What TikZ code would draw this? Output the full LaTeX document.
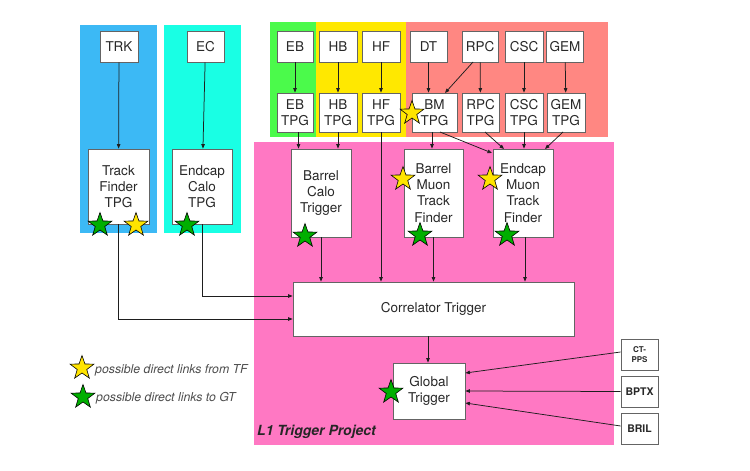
\documentclass[tikz,border=0pt]{standalone}
\usepackage{fontspec}
\setmainfont{TeX Gyre Heros}
\usetikzlibrary{arrows.meta,shapes.geometric}
\definecolor{cblue}{RGB}{60,185,245}
\definecolor{ccyan}{RGB}{25,255,228}
\definecolor{cgreen}{RGB}{75,250,75}
\definecolor{cyellow}{RGB}{255,232,0}
\definecolor{cred}{RGB}{255,135,130}
\definecolor{cpink}{RGB}{255,120,195}
\definecolor{boxgray}{RGB}{100,100,100}
\definecolor{textgray}{RGB}{40,40,40}
\definecolor{linegray}{RGB}{30,30,30}
\definecolor{starY}{RGB}{255,228,0}
\definecolor{starG}{RGB}{0,175,0}
\begin{document}
\begin{tikzpicture}[x=1pt,y=-1pt,
  box/.style={draw=boxgray, fill=white, line width=0.8pt, align=center, inner sep=0pt,
    font=\fontsize{13.5}{16.3}\selectfont, text=textgray},
  sbox/.style={box, font=\bfseries\fontsize{10.5}{12}\selectfont},
  arr/.style={draw=linegray, line width=0.75pt, -{Triangle[length=4.5pt,width=3.5pt]}},
  starbase/.style={star, star points=5, star point ratio=2.5, minimum size=25pt,
    inner sep=0pt, draw=black, line width=0.6pt},
  ystar/.style={starbase, fill=starY},
  gstar/.style={starbase, fill=starG},
  legend/.style={anchor=west, inner sep=0pt, text=black!70,
    font=\itshape\fontsize{12.3}{13}\selectfont}]
\useasboundingbox (0,0) rectangle (750,471);
% regions
\fill[cblue] (80,25) rectangle (157,233);
\fill[ccyan] (164,25) rectangle (241,233);
\fill[cgreen] (270,22) rectangle (316,137);
\fill[cyellow] (316,22) rectangle (406,137);
\fill[cred] (406,22) rectangle (608,137);
\fill[cpink] (254,142) rectangle (614,445);
% top boxes
\node[box, minimum width=38pt, minimum height=31pt] (trk) at (119,46.5) {TRK};
\node[box, minimum width=37pt, minimum height=31pt] (ec) at (205.5,46.5) {EC};
\node[box, minimum width=36pt, minimum height=31pt] (eb) at (295,46.5) {EB};
\node[box, minimum width=38pt, minimum height=31pt] (hb) at (338,46.5) {HB};
\node[box, minimum width=38pt, minimum height=31pt] (hf) at (381,46.5) {HF};
\node[box, minimum width=37pt, minimum height=31pt] (dt) at (428.5,46.5) {DT};
\node[box, minimum width=36pt, minimum height=31pt] (rpc) at (480,46.5) {RPC};
\node[box, minimum width=38pt, minimum height=31pt] (csc) at (524,46.5) {CSC};
\node[box, minimum width=37pt, minimum height=31pt] (gem) at (565,46.5) {GEM};
% TPG row
\node[box, minimum width=36pt, minimum height=39pt] (ebt) at (295,112.5) {EB\\TPG};
\node[box, minimum width=38pt, minimum height=39pt] (hbt) at (338,112.5) {HB\\TPG};
\node[box, minimum width=38pt, minimum height=39pt] (hft) at (381,112.5) {HF\\TPG};
\node[box, minimum width=45pt, minimum height=39pt] (bmt) at (434.5,112.5) {BM\\TPG};
\node[box, minimum width=37pt, minimum height=39pt] (rpct) at (480.5,112.5) {RPC\\TPG};
\node[box, minimum width=38pt, minimum height=39pt] (csct) at (524,112.5) {CSC\\TPG};
\node[box, minimum width=38pt, minimum height=39pt] (gemt) at (566,112.5) {GEM\\TPG};
% trigger boxes
\node[box, minimum width=61pt, minimum height=75pt] (tft) at (118.5,186.5) {Track\\Finder\\TPG};
\node[box, minimum width=60pt, minimum height=75pt] (ect) at (202,186.5) {Endcap\\Calo\\TPG};
\node[box, minimum width=60pt, minimum height=88pt] (bct) at (321,193) {Barrel\\Calo\\Trigger};
\node[box, minimum width=59pt, minimum height=88pt] (bmtf) at (433.5,193) {Barrel\\Muon\\Track\\Finder};
\node[box, minimum width=60pt, minimum height=88pt] (emtf) at (523,193) {Endcap\\Muon\\Track\\Finder};
\node[box, minimum width=281pt, minimum height=54pt] (corr) at (433.5,309) {Correlator Trigger};
\node[box, minimum width=72pt, minimum height=56pt] (gt) at (429,391) {Global\\Trigger};
\node[sbox, minimum width=37pt, minimum height=31pt, font=\bfseries\fontsize{8}{9.5}\selectfont] (ctpps) at (639.5,354.5) {CT-\\PPS};
\node[sbox, minimum width=37pt, minimum height=31pt] (bptx) at (639.5,391.5) {BPTX};
\node[sbox, minimum width=37pt, minimum height=31pt] (bril) at (639.5,428.5) {BRIL};
% coordinates for connector ends
\coordinate (c1) at (473,62);
\coordinate (c2) at (445,93);
\coordinate (c3) at (440,132);
\coordinate (c4) at (492,153);
\coordinate (c5) at (485,132);
\coordinate (c6) at (504,149);
\coordinate (c7) at (563,132);
\coordinate (c8) at (545,149);
% connectors
\draw[arr] (trk) -- (tft);
\draw[arr] (ec) -- (ect);
\draw[arr] (eb) -- (ebt);
\draw[arr] (hb) -- (hbt);
\draw[arr] (hf) -- (hft);
\draw[arr] (dt.south) -- (dt.south |- bmt.north);
\draw[arr] (c1) -- (c2);
\draw[arr] (rpc) -- (rpct);
\draw[arr] (csc) -- (csct);
\draw[arr] (gem) -- (gemt);
\draw[arr] ([xshift=3.5pt]ebt.south) -- ([xshift=3.5pt]ebt.south |- bct.north);
\draw[arr] (hbt.south) -- (hbt.south |- bct.north);
\draw[arr] (hft.south) -- (hft.south |- corr.north);
\draw[arr] ([xshift=-2.5pt]bmt.south) -- ([xshift=-2.5pt]bmt.south |- bmtf.north);
\draw[arr] (c3) -- (c4);
\draw[arr] (c5) -- (c6);
\draw[arr] (csct) -- (emtf.north -| csct);
\draw[arr] (c7) -- (c8);
\draw[arr] (bct.south) -- (bct.south |- corr.north);
\draw[arr] (bmtf.south) -- (bmtf.south |- corr.north);
\draw[arr] ([xshift=2pt]emtf.south) -- ([xshift=2pt]emtf.south |- corr.north);
\draw[arr] (tft.south) |- ([yshift=-10pt]corr.west);
\draw[arr] (ect.south) |- ([yshift=13pt]corr.west);
\draw[arr] ([xshift=-5.5pt]corr.south) -- ([xshift=-5.5pt]corr.south |- gt.north);
\draw[arr] ([yshift=2.5pt]ctpps.west) -- ([yshift=18pt]gt.east);
\draw[arr] (bptx.west) -- (gt.east);
\draw[arr] ([yshift=2.5pt]bril.west) -- ([yshift=-12pt]gt.east);
% stars
\node[gstar] (s1) at (100,225) {};
\node[ystar] (s2) at (136,225) {};
\node[gstar] (s3) at (187,225) {};
\node[ystar] (s4) at (412,113) {};
\node[gstar] (s5) at (305,236) {};
\node[ystar] (s6) at (403,179) {};
\node[gstar] (s7) at (420,235) {};
\node[ystar] (s8) at (490,179) {};
\node[gstar] (s9) at (507,235) {};
\node[gstar] (s10) at (391,392) {};
% legend
\node[ystar] (ly) at (82,368) {};
\node[legend] (lyt) at (95,370) {possible direct links from TF};
\node[gstar] (lg) at (83,397) {};
\node[legend] (lgt) at (96,398) {possible direct links to GT};
\node[anchor=west, inner sep=0pt, text=black!85, font=\bfseries\itshape\fontsize{14}{15}\selectfont] (l1) at (257,432) {L1 Trigger Project};
\end{tikzpicture}
\end{document}
